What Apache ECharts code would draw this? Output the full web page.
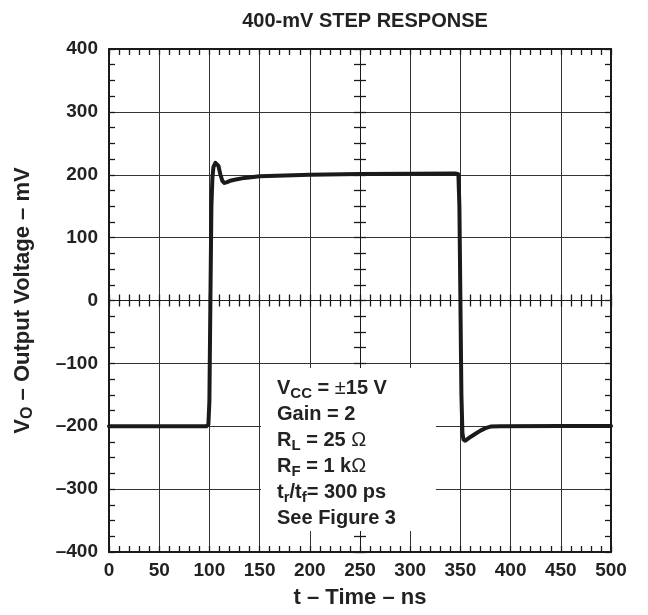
<!DOCTYPE html>
<html>
<head>
<meta charset="utf-8">
<script src="https://cdn.jsdelivr.net/npm/echarts@6/dist/echarts.min.js"></script>
<style>
  html, body { margin: 0; padding: 0; background: #fff; }
  #main { width: 648px; height: 615px; }
</style>
</head>
<body>
<div id="main"></div>
<script>
// 400-mV 阶跃响应, 时间 (ns) / 输出电压 (mV)
var timeNs = [0, 50, 90, 97, 99, 100, 101, 102, 103, 104, 106, 107.5, 109, 111, 113, 115, 117, 120, 125, 135, 150, 175, 200, 250, 300, 345, 348, 349, 350, 351, 352, 353, 355, 360, 365, 370, 375, 380, 390, 450, 500];
var voltageMv = [-200, -200, -200, -200, -197, -160, 0, 150, 195, 212, 219, 220, 214, 200, 190, 187, 188, 190, 192, 195, 197.5, 199, 200, 201, 201.5, 202, 201, 150, 0, -150, -210, -221, -223, -217, -212, -207, -203, -200.5, -200, -199.5, -199.5];

var xRange = [0, 500];
var yRange = [-400, 400];

var conditions = [
    '{b|V}{s|CC}{b| = }{o|±}{b|15 V}',
    '{b|Gain = 2}',
    '{b|R}{s|L}{b| = 25 }{o|Ω}',
    '{b|R}{s|F}{b| = 1 k}{o|Ω}',
    '{b|t}{s|r}{b|/t}{s|f}{b|= 300 ps}',
    '{b|See Figure 3}'
];

var FONT = 'Liberation Sans, Arial, Helvetica, sans-serif';
var GRID = { left: 109, top: 49, width: 502, height: 503 };
var INK = '#1a1a1a';

var myChart = echarts.init(document.getElementById('main'));

var points = timeNs.map(function (t, i) { return [t, voltageMv[i]]; });

var frameLine = { onZero: false, lineStyle: { color: INK, width: 2 } };
var thinLine = { onZero: false, lineStyle: { color: INK, width: 1 } };
var tickStyle = { color: INK, width: 1.3 };

// 坐标轴工厂: 同一刻度, 不同位置/方向
function xAxisOf(opts) {
    return Object.assign({
        type: 'value', min: xRange[0], max: xRange[1], interval: 50,
        axisLine: frameLine,
        axisTick: { show: true, inside: true, length: 6, lineStyle: tickStyle },
        minorTick: { show: true, splitNumber: 5, length: 6, lineStyle: tickStyle },
        axisLabel: { show: false },
        splitLine: { show: false }
    }, opts);
}
function yAxisOf(opts) {
    return Object.assign({
        type: 'value', min: yRange[0], max: yRange[1], interval: 100,
        axisLine: frameLine,
        axisTick: { show: true, inside: true, length: 6, lineStyle: tickStyle },
        minorTick: { show: true, splitNumber: 4, length: 6, lineStyle: tickStyle },
        axisLabel: { show: false },
        splitLine: { show: false }
    }, opts);
}

var labelStyle = { fontFamily: FONT, fontSize: 19, fontWeight: 'bold', color: '#222' };
var nameStyle = { fontFamily: FONT, fontSize: 22, fontWeight: 'bold', color: '#222' };

var options = {
    animation: false,
    backgroundColor: '#fff',
    title: {
        text: '400-mV STEP RESPONSE',
        left: GRID.left + GRID.width / 2,
        textAlign: 'center',
        top: 6,
        textStyle: { fontFamily: FONT, fontSize: 20, fontWeight: 'bold', color: '#222' }
    },
    grid: { left: GRID.left, top: GRID.top, width: GRID.width, height: GRID.height, containLabel: false },
    xAxis: [
        xAxisOf({
            position: 'bottom',
            axisLabel: Object.assign({ show: true, margin: 9 }, labelStyle),
            splitLine: { show: true, lineStyle: { color: '#333', width: 1 } },
            name: 't – Time – ns',
            nameLocation: 'middle',
            nameGap: 35,
            nameTextStyle: nameStyle
        }),
        xAxisOf({ position: 'top' }),
        // 中心水平线 (0 mV) 上下两侧的刻度
        xAxisOf({ position: 'bottom', offset: -GRID.height / 2, axisLine: thinLine, axisTick: { show: true, inside: true, length: 6, lineStyle: tickStyle } }),
        xAxisOf({ position: 'bottom', offset: -GRID.height / 2, axisLine: thinLine, axisTick: { show: true, inside: false, length: 6, lineStyle: tickStyle } })
    ],
    yAxis: [
        yAxisOf({
            position: 'left',
            axisLabel: Object.assign({
                show: true, margin: 11,
                formatter: function (v) { return String(v).replace('-', '–'); }
            }, labelStyle),
            splitLine: { show: true, lineStyle: { color: '#333', width: 1 } },
            name: '{b|V}{s|O}{b| – Output Voltage – mV}',
            nameLocation: 'middle',
            nameGap: 73,
            nameTextStyle: {
                rich: {
                    b: Object.assign({ lineHeight: 26 }, nameStyle),
                    s: { fontFamily: FONT, fontSize: 16, fontWeight: 'bold', color: '#222', lineHeight: 16, verticalAlign: 'bottom' }
                }
            }
        }),
        yAxisOf({ position: 'right' }),
        // 中心竖线 (250 ns) 左右两侧的刻度
        yAxisOf({ position: 'left', offset: -GRID.width / 2, axisLine: thinLine, axisTick: { show: true, inside: true, length: 6, lineStyle: tickStyle } }),
        yAxisOf({ position: 'left', offset: -GRID.width / 2, axisLine: thinLine, axisTick: { show: true, inside: false, length: 6, lineStyle: tickStyle } })
    ],
    graphic: [{
        type: 'text',
        left: 261,
        top: 368,
        z: 10,
        style: {
            text: conditions.join('\n'),
            fill: '#222',
            backgroundColor: '#fff',
            padding: [7, 40, 0, 16],
            rich: {
                b: { fontFamily: FONT, fontSize: 20, fontWeight: 'bold', fill: '#222', lineHeight: 26 },
                s: { fontFamily: FONT, fontSize: 15, fontWeight: 'bold', fill: '#222', lineHeight: 15, verticalAlign: 'bottom' },
                o: { fontFamily: FONT, fontSize: 20, fontWeight: 'normal', fill: '#222', lineHeight: 26 }
            }
        }
    }],
    series: [{
        name: 'VO',
        type: 'line',
        xAxisIndex: 0,
        yAxisIndex: 0,
        data: points,
        showSymbol: false,
        smooth: false,
        lineStyle: { color: INK, width: 4, join: 'round', cap: 'round' },
        z: 5
    }]
};

myChart.setOption(options, true);
</script>
</body>
</html>
